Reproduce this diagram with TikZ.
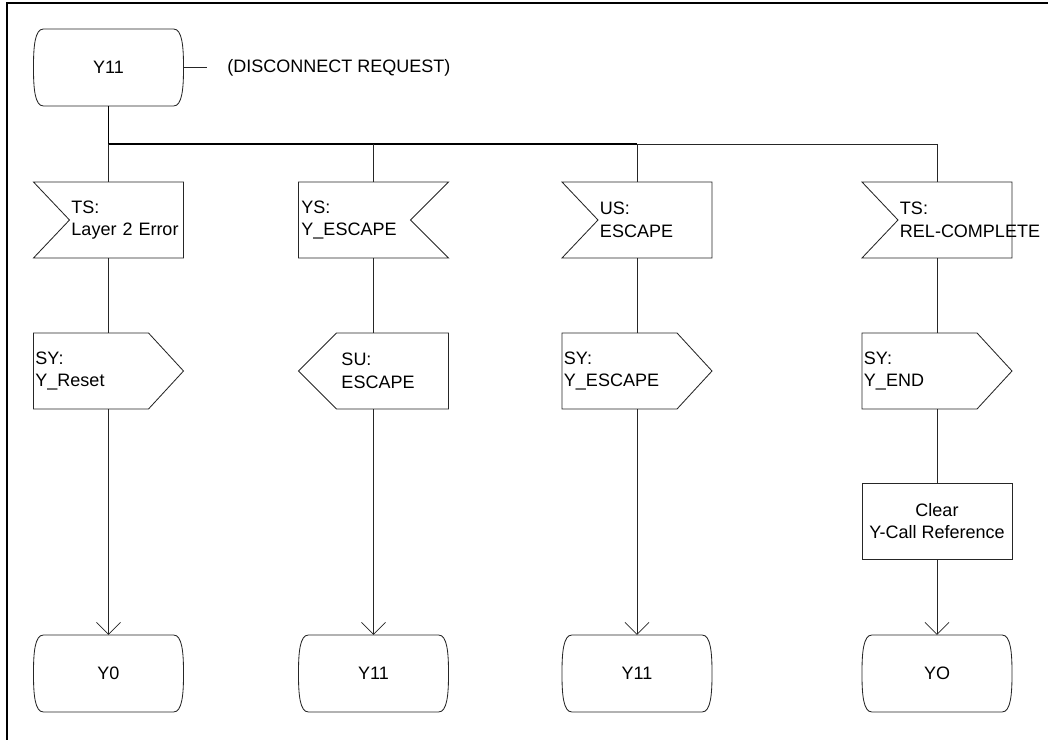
\documentclass[tikz,border=0pt]{standalone}
\usepackage{fontspec}
\setmainfont{Liberation Sans}
\usetikzlibrary{arrows.meta}

\tikzset{
  box/.style={minimum width=3.75cm,minimum height=1.9cm,inner sep=0pt,outer sep=0pt},
  outline/.style={draw=black!85,line width=0.6pt},
  wire/.style={draw=black!85,line width=0.6pt},
  bus/.style={draw=black,line width=1.4pt},
  frame/.style={draw=black,line width=1.9pt},
  sdlstate/.style={box,minimum height=1.925cm,
    append after command={\pgfextra{\draw[outline]
      ([xshift=0.25cm]\tikzlastnode.north west) -- ([xshift=-0.25cm]\tikzlastnode.north east)
      .. controls ([xshift=-0.03cm]\tikzlastnode.north east) and ([yshift=-0.45cm]\tikzlastnode.north east) .. (\tikzlastnode.east)
      .. controls ([yshift=0.45cm]\tikzlastnode.south east) and ([xshift=-0.03cm]\tikzlastnode.south east) .. ([xshift=-0.25cm]\tikzlastnode.south east)
      -- ([xshift=0.25cm]\tikzlastnode.south west)
      .. controls ([xshift=0.03cm]\tikzlastnode.south west) and ([yshift=0.45cm]\tikzlastnode.south west) .. (\tikzlastnode.west)
      .. controls ([yshift=-0.45cm]\tikzlastnode.north west) and ([xshift=0.03cm]\tikzlastnode.north west) .. cycle;}}},
  % input signal, notch on the left
  insig/.style={box,text width=1.85cm,align=left,
    append after command={\pgfextra{\draw[outline]
      (\tikzlastnode.north west) -- (\tikzlastnode.north east) -- (\tikzlastnode.south east)
      -- (\tikzlastnode.south west) -- ([xshift=0.9cm]\tikzlastnode.west) -- cycle;}}},
  % input signal, notch on the right
  insigr/.style={box,text width=3.6cm,align=left,
    append after command={\pgfextra{\draw[outline]
      (\tikzlastnode.north east) -- (\tikzlastnode.north west) -- (\tikzlastnode.south west)
      -- (\tikzlastnode.south east) -- ([xshift=-0.95cm]\tikzlastnode.east) -- cycle;}}},
  % output signal, pointing right
  outsig/.style={box,text width=3.65cm,align=left,
    append after command={\pgfextra{\draw[outline]
      (\tikzlastnode.north west) -- ([xshift=-0.875cm]\tikzlastnode.north east) -- (\tikzlastnode.east)
      -- ([xshift=-0.875cm]\tikzlastnode.south east) -- (\tikzlastnode.south west) -- cycle;}}},
  % output signal, pointing left
  outsigl/.style={box,text width=1.6cm,align=left,
    append after command={\pgfextra{\draw[outline]
      (\tikzlastnode.north east) -- ([xshift=0.95cm]\tikzlastnode.north west) -- (\tikzlastnode.west)
      -- ([xshift=0.95cm]\tikzlastnode.south west) -- (\tikzlastnode.south east) -- cycle;}}},
  task/.style={box,outline,align=center}
}

\begin{document}
\begin{tikzpicture}[x=0.025cm,y=-0.025cm,font=\fontsize{12.8pt}{16pt}\selectfont,
    >={Straight Barb[length=0.3cm,width=0.6cm]}]
  \useasboundingbox (0,0) rectangle (1048,740);
  \draw[frame] (7,740) -- (7,3) -- (1048,3);

  % start state and comment
  \node[sdlstate] at (108.5,67.5) (s0) {Y11};
  \coordinate (cmend) at (207,67.5);
  \node[anchor=west,inner sep=0pt] at (227,68) (cmt) {(DISCONNECT REQUEST)};
  \draw[wire] (s0) -- (cmend);

  % branch points
  \coordinate (b1) at (108.5,144);
  \coordinate (b2) at (373.5,144);
  \coordinate (b3) at (637,144);
  \coordinate (b4) at (937,144);
  \draw[bus] (s0) -- (b1) -- (b3);
  \draw[wire] (b3) -- (b4);

  % inputs
  \node[insig] at (108.5,220) (in1) {TS:\\\mbox{Layer 2 Error}};
  \node[insigr] at (373.5,220) (in2) {YS:\\Y\_ESCAPE};
  \node[insig] at (637,220) (in3) {US:\\ESCAPE};
  \node[insig] at (937,220) (in4) {TS:\\\mbox{REL-COMPLETE}};

  % outputs
  \node[outsig] at (108.5,371) (out1) {SY:\\Y\_Reset};
  \node[outsigl] at (373.5,371) (out2) {SU:\\ESCAPE};
  \node[outsig] at (637,371) (out3) {SY:\\Y\_ESCAPE};
  \node[outsig] at (937,371) (out4) {SY:\\Y\_END};
  \node[task] at (937,521) (clr) {Clear\\Y-Call Reference};

  % next states
  \node[sdlstate] at (108.5,673.5) (y0) {Y0};
  \node[sdlstate] at (373.5,673.5) (y11a) {Y11};
  \node[sdlstate] at (637,673.5) (y11b) {Y11};
  \node[sdlstate] at (937,673.5) (yo) {YO};

  \path[wire]
    (b1) edge (in1) (b2) edge (in2) (b3) edge (in3) (b4) edge (in4)
    (in1) edge (out1) (in2) edge (out2) (in3) edge (out3) (in4) edge (out4)
    (out4) edge (clr);
  \path[wire,->]
    (out1) edge (y0) (out2) edge (y11a) (out3) edge (y11b) (clr) edge (yo);
\end{tikzpicture}
\end{document}
